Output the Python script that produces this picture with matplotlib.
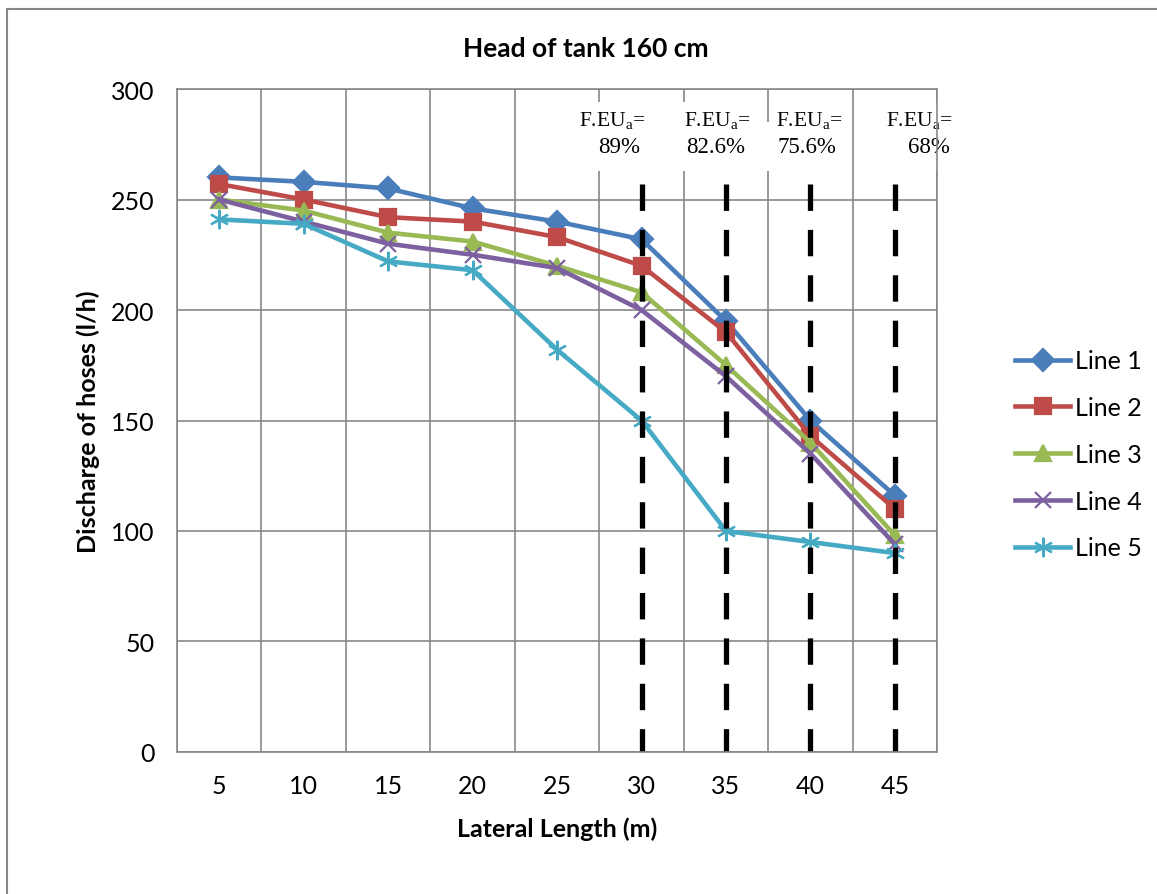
import numpy as np
import matplotlib.pyplot as plt
from matplotlib.lines import Line2D

plt.rcParams['font.family'] = ['Lato', 'DejaVu Sans']
plt.rcParams['mathtext.fontset'] = 'custom'
plt.rcParams['mathtext.rm'] = 'Liberation Serif'

# data
lengths = [5, 10, 15, 20, 25, 30, 35, 40, 45]
line1 = [260, 258, 255, 246, 240, 232, 195, 150, 116]
line2 = [257, 250, 242, 240, 233, 220, 190, 143, 110]
line3 = [250, 245, 235, 231, 220, 208, 175, 140, 98]
line4 = [250, 240, 230, 225, 219, 200, 170, 135, 94]
line5 = [241, 239, 222, 218, 182, 150, 100, 95, 90]
series = [line1, line2, line3, line4, line5]
names = ['Line 1', 'Line 2', 'Line 3', 'Line 4', 'Line 5']

# F.EU_a annotations: lateral length of the dashed line and its value
feu_at = [30, 35, 40, 45]
feu_val = ['89%', '82.6%', '75.6%', '68%']

colors = ['#4A7EBB', '#BE4B48', '#98B954', '#7D60A0', '#46AAC5']
markers = ['D', 's', '^', 'x', (6, 2, 0)]
msizes = [11, 12, 12, 12, 14]

fig = plt.figure(figsize=(11.57, 8.95), dpi=100)
ax = fig.add_axes([0.153, 0.1587, 0.657, 0.7407])

x = np.arange(len(lengths))
for vals, name, c, m, ms in zip(series, names, colors, markers, msizes):
    ax.plot(x, vals, color=c, lw=3.3, marker=m, ms=ms, mew=1.6,
            mec=c, mfc=c, label=name, zorder=3)

# vertical dashed markers, drawn top-down so a dash starts at the top
for xv in feu_at:
    i = lengths.index(xv)
    ax.plot([i, i], [257, 0], color='black', lw=3.8,
            dashes=(5.0, 3.6), zorder=4)

# annotation text: (offset of line 1 centre, offset of line 2, its alignment)
offs = [(-0.35, -0.02, 'right'),
        (-0.105, 0.227, 'right'),
        (-0.015, -0.394, 'left'),
        (0.29, 0.654, 'right')]
for xv, val, (dx1, dx2, ha2) in zip(feu_at, feu_val, offs):
    i = lengths.index(xv)
    ax.text(i + dx2, 274, val, ha=ha2, va='center',
            family='Liberation Serif', fontsize=16.5, zorder=5,
            bbox=dict(facecolor='white', edgecolor='none', pad=10))
    ax.text(i + dx1, 286, r'F.EU$_{\mathrm{a}}$=', ha='center', va='center',
            family='Liberation Serif', fontsize=15.5, zorder=5.5,
            bbox=dict(facecolor='white', edgecolor='none', pad=5))

ax.set_xlim(-0.5, len(lengths) - 0.5)
ax.set_ylim(0, 300)
ax.set_xticks(x)
ax.set_xticklabels([str(v) for v in lengths])
ax.set_xticks(np.arange(-0.5, len(lengths)), minor=True)
ax.set_yticks(np.arange(0, 301, 50))
ax.tick_params(axis='both', which='both', length=0, labelsize=18, pad=16)

ax.grid(True, which='minor', axis='x', color='#878787', lw=1.2, zorder=0)
ax.grid(True, which='major', axis='y', color='#878787', lw=1.2, zorder=0)
ax.set_axisbelow(True)
for s in ax.spines.values():
    s.set_color('#878787')
    s.set_linewidth(1.2)
    s.set_zorder(6)

fig.text(586 / 1157, 1 - 49 / 895, 'Head of tank 160 cm', ha='center',
         va='center', fontsize=19, fontweight='bold')
ax.set_xlabel('Lateral Length (m)', fontsize=18, fontweight='bold', labelpad=14)
ax.set_ylabel('Discharge of hoses (l/h)', fontsize=18, fontweight='bold', labelpad=8)

ax.legend(loc='center left', bbox_to_anchor=(1.103, 0.449), frameon=False,
          fontsize=18, handlelength=2.2, labelspacing=0.95, handletextpad=0.2,
          borderpad=0, borderaxespad=0)

# chart border
fig.add_artist(Line2D([7 / 1157, 1], [1 - 10 / 895, 1 - 10 / 895],
                      color='#878787', lw=1.5, transform=fig.transFigure))
fig.add_artist(Line2D([7 / 1157, 7 / 1157], [0, 1 - 10 / 895],
                      color='#878787', lw=1.5, transform=fig.transFigure))

plt.savefig('out.png', dpi=100)
